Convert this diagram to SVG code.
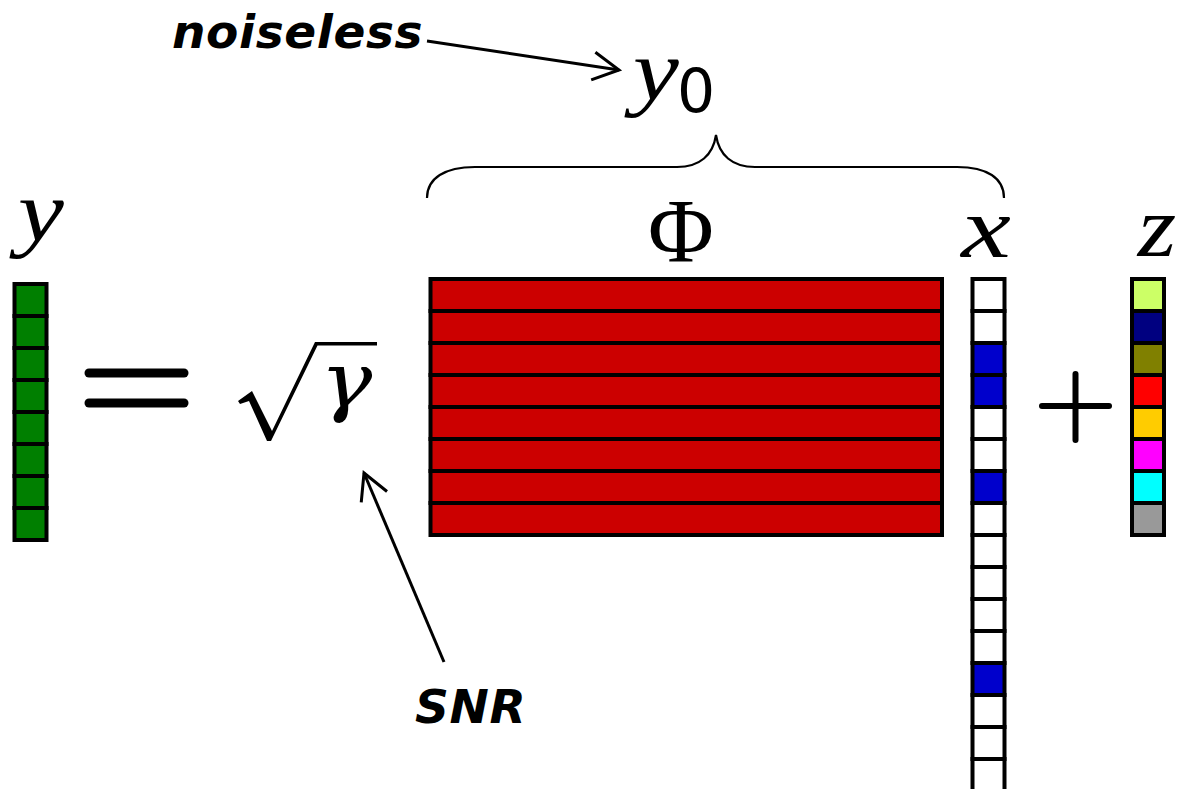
<svg xmlns="http://www.w3.org/2000/svg" width="1180" height="789" viewBox="0 0 1180 789">
  <style>
    .cell { stroke: #000; stroke-width: 4; }
    .math { font-family: "Liberation Serif", "DejaVu Serif", serif; font-style: italic; fill: #000; }
    .upright { font-family: "Liberation Serif", "DejaVu Serif", serif; fill: #000; }
    .note { font-family: "DejaVu Sans", "Liberation Sans", sans-serif; font-weight: bold; font-style: oblique; font-size: 47px; letter-spacing: 0.6px; fill: #000; }
    .op { stroke: #000; stroke-linecap: round; fill: none; }
    .conn { stroke: #000; stroke-width: 3; fill: none; }
  </style>
  <defs>
    <marker id="open-arrow" markerUnits="userSpaceOnUse" orient="auto" overflow="visible" markerWidth="1" markerHeight="1" refX="0" refY="0">
      <path d="M-26,-14 L0,0 L-26,14" fill="none" stroke="#000" stroke-width="3"/>
    </marker>
  </defs>
  <rect width="1180" height="789" fill="#fff"/>

  <!-- measurement vector y -->
  <g id="y-vector">
    <text class="math" transform="translate(41,240) scale(1.2,1)" font-size="86" text-anchor="middle">y</text>
    <g fill="#007f00" class="cell">
      <rect x="14.5" y="284" width="32" height="32"/>
      <rect x="14.5" y="316" width="32" height="32"/>
      <rect x="14.5" y="348" width="32" height="32"/>
      <rect x="14.5" y="380" width="32" height="32"/>
      <rect x="14.5" y="412" width="32" height="32"/>
      <rect x="14.5" y="444" width="32" height="32"/>
      <rect x="14.5" y="476" width="32" height="32"/>
      <rect x="14.5" y="508" width="32" height="32"/>
    </g>
  </g>

  <!-- equals sign -->
  <g id="equals" class="op" stroke-width="9">
    <line x1="89" y1="373" x2="184" y2="373"/>
    <line x1="89" y1="403" x2="184" y2="403"/>
  </g>

  <!-- square root of gamma -->
  <g id="sqrt-gamma">
    <path d="M238,401 L252,391 L272,431 L315,342 L377,342 L377,345.5 L317.5,345.5 L271,441 L267,441 L249,401 L240,404 Z" fill="#000"/>
    <text transform="translate(346,407) scale(1.15,1)" font-family="DejaVu Serif, Liberation Serif, serif" font-style="italic" font-size="76" text-anchor="middle" fill="#000">γ</text>
  </g>

  <!-- sensing matrix Phi -->
  <g id="phi-matrix">
    <text class="upright" x="681" y="262" font-size="90" text-anchor="middle">Φ</text>
    <g fill="#cc0000" class="cell">
      <rect x="430.5" y="279" width="511.5" height="32"/>
      <rect x="430.5" y="311" width="511.5" height="32"/>
      <rect x="430.5" y="343" width="511.5" height="32"/>
      <rect x="430.5" y="375" width="511.5" height="32"/>
      <rect x="430.5" y="407" width="511.5" height="32"/>
      <rect x="430.5" y="439" width="511.5" height="32"/>
      <rect x="430.5" y="471" width="511.5" height="32"/>
      <rect x="430.5" y="503" width="511.5" height="32"/>
    </g>
  </g>

  <!-- sparse signal x -->
  <g id="x-vector">
    <text class="math" transform="translate(986,257) scale(1.3,1)" font-size="86" text-anchor="middle">x</text>
    <g class="cell">
      <rect x="972.5" y="279" width="32" height="32" fill="#fff"/>
      <rect x="972.5" y="311" width="32" height="32" fill="#fff"/>
      <rect x="972.5" y="343" width="32" height="32" fill="#0000cc"/>
      <rect x="972.5" y="375" width="32" height="32" fill="#0000cc"/>
      <rect x="972.5" y="407" width="32" height="32" fill="#fff"/>
      <rect x="972.5" y="439" width="32" height="32" fill="#fff"/>
      <rect x="972.5" y="471" width="32" height="32" fill="#0000cc"/>
      <rect x="972.5" y="503" width="32" height="32" fill="#fff"/>
      <rect x="972.5" y="535" width="32" height="32" fill="#fff"/>
      <rect x="972.5" y="567" width="32" height="32" fill="#fff"/>
      <rect x="972.5" y="599" width="32" height="32" fill="#fff"/>
      <rect x="972.5" y="631" width="32" height="32" fill="#fff"/>
      <rect x="972.5" y="663" width="32" height="32" fill="#0000cc"/>
      <rect x="972.5" y="695" width="32" height="32" fill="#fff"/>
      <rect x="972.5" y="727" width="32" height="32" fill="#fff"/>
      <rect x="972.5" y="759" width="32" height="32" fill="#fff"/>
      <rect x="972.5" y="791" width="32" height="32" fill="#fff"/>
    </g>
  </g>

  <!-- plus sign -->
  <g id="plus" class="op" stroke-width="6">
    <line x1="1042" y1="406" x2="1109" y2="406"/>
    <line x1="1075.5" y1="374" x2="1075.5" y2="440"/>
  </g>

  <!-- noise vector z -->
  <g id="z-vector">
    <text class="math" transform="translate(1157,256) scale(1.15,1)" font-size="86" text-anchor="middle">z</text>
    <g class="cell">
      <rect x="1132" y="279" width="32" height="32" fill="#ccff66"/>
      <rect x="1132" y="311" width="32" height="32" fill="#000080"/>
      <rect x="1132" y="343" width="32" height="32" fill="#808000"/>
      <rect x="1132" y="375" width="32" height="32" fill="#ff0000"/>
      <rect x="1132" y="407" width="32" height="32" fill="#ffcc00"/>
      <rect x="1132" y="439" width="32" height="32" fill="#ff00ff"/>
      <rect x="1132" y="471" width="32" height="32" fill="#00ffff"/>
      <rect x="1132" y="503" width="32" height="32" fill="#999999"/>
    </g>
  </g>

  <!-- brace over Phi x, labelled y0 -->
  <g id="y0-brace">
    <path d="M427,198 C427,178 445,167 475,167 L677,167 C700,167 713,155 716,135 C719,155 732,167 755,167 L957,167 C987,167 1004,178 1004,198" fill="none" stroke="#000" stroke-width="2.2"/>
    <text class="math" transform="translate(656,99) scale(1.2,1)" font-size="86" text-anchor="middle">y</text>
    <text x="677" y="112" font-family="DejaVu Sans, Liberation Sans, sans-serif" font-size="60" fill="#000">0</text>
  </g>

  <!-- annotations -->
  <g id="noiseless-label">
    <text class="note" x="172" y="48">noiseless</text>
  </g>
  <g id="snr-label">
    <text class="note" x="415" y="723">SNR</text>
  </g>

  <!-- annotation arrows -->
  <g id="connectors" class="conn">
    <line x1="427" y1="41" x2="619" y2="70" marker-end="url(#open-arrow)"/>
    <line x1="444" y1="662" x2="364" y2="473" marker-end="url(#open-arrow)"/>
  </g>
</svg>
